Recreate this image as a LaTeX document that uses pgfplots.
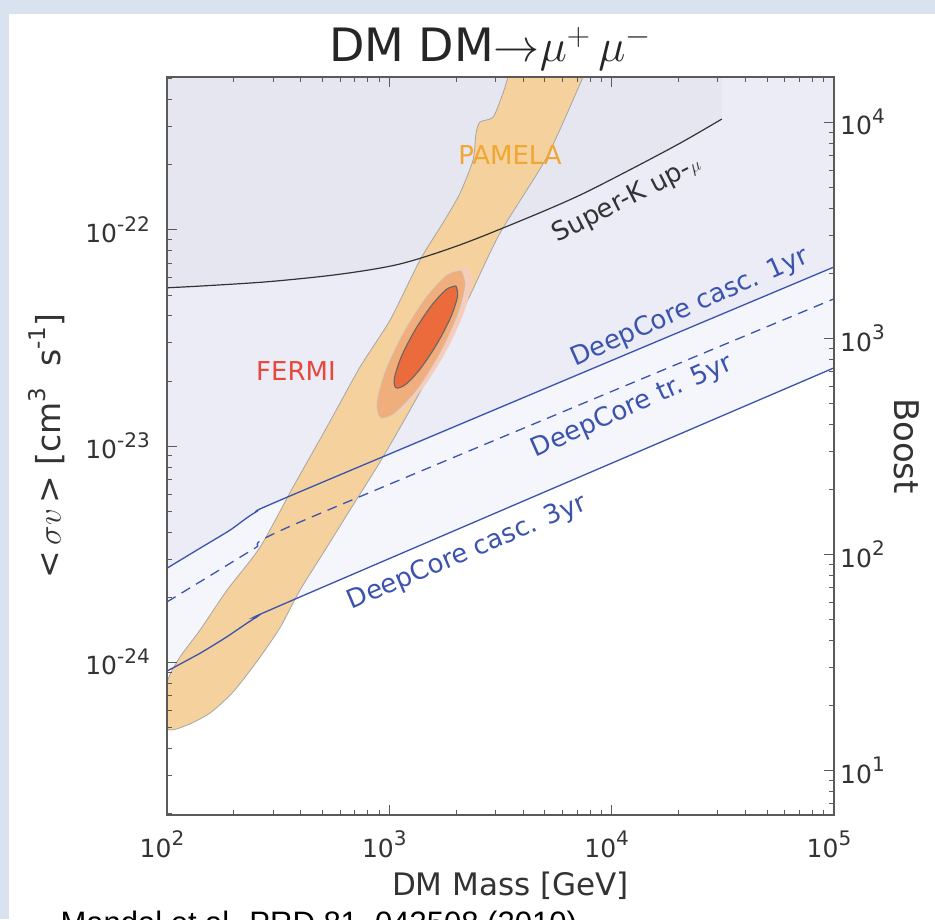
\RequirePackage{fix-cm}
\documentclass[border=0pt]{standalone}
\usepackage{fontspec}
\setmainfont{DejaVu Sans}
\newfontfamily\refont{Liberation Sans}
\usepackage{pgfplots}
\pgfplotsset{compat=1.18}
\definecolor{bgblue}{HTML}{D9E3F0}
\definecolor{regSK}{HTML}{E5E6EF}
\definecolor{regA}{HTML}{EBECF6}
\definecolor{regB}{HTML}{F5F6FB}
\definecolor{pamela}{HTML}{F4D19D}
\definecolor{pamtxt}{HTML}{F2A632}
\definecolor{fermiA}{HTML}{F6CDBD}
\definecolor{fermiB}{HTML}{F0AE7C}
\definecolor{fermiC}{HTML}{EC6B3C}
\definecolor{fermitxt}{HTML}{E8473B}
\definecolor{dcblue}{HTML}{3B53AE}
\definecolor{axgray}{HTML}{5A5A5A}
\newcommand\tsup[1]{\raisebox{0.45em}{\fontsize{20}{20}\selectfont #1}}
\newcommand\lsup[1]{\raisebox{0.45em}{\fontsize{23}{23}\selectfont #1}}
\begin{document}
\begin{tikzpicture}[x=1pt,y=1pt]
\useasboundingbox (0,0) rectangle (935,919);
\fill[bgblue] (0,0) rectangle (935,919);
\fill[white] (9,0) rectangle (935,905);
\node[anchor=base, font=\fontsize{46}{50}\selectfont, text=black!85] at (490,857) {DM DM$\mathord{\to}\mu^{+}\,\mu^{-}$};
\node[anchor=base west, font=\refont\fontsize{31}{34}\selectfont] at (57,-14) {Mandal et al. PRD 81, 043508 (2010)};

\begin{axis}[
 at={(167pt,104pt)}, anchor=south west, scale only axis, width=667pt, height=738pt,
 xmode=log, ymode=log, xmin=100, xmax=100000, ymin=1.96e-25, ymax=5.1e-22,
 axis on top,
 axis line style={axgray, line width=1.6pt},
 tick align=inside, major tick length=10pt, minor tick length=5pt,
 every tick/.style={axgray, line width=0.9pt},
 xtick={100,1000,10000,100000},
 xticklabels={10\tsup{2},10\tsup{3},10\tsup{4},10\tsup{5}},
 minor xtick={200,300,400,500,600,700,800,900,2000,3000,4000,5000,6000,7000,8000,9000,20000,30000,40000,50000,60000,70000,80000,90000},
 ytick={1e-24,1e-23,1e-22},
 yticklabels={10\tsup{-24},10\tsup{-23},10\tsup{-22}},
 minor ytick={2e-25,3e-25,4e-25,5e-25,6e-25,7e-25,8e-25,9e-25,2e-24,3e-24,4e-24,5e-24,6e-24,7e-24,8e-24,9e-24,2e-23,3e-23,4e-23,5e-23,6e-23,7e-23,8e-23,9e-23,2e-22,3e-22,4e-22,5e-22},
 ytick pos=left, xtick pos=both,
 ticklabel style={font=\fontsize{25}{25}\selectfont, text=black!80},
 xticklabel style={anchor=base, yshift=-42pt, xshift=-5pt, inner sep=0pt},
 yticklabel style={anchor=east, inner sep=0pt, xshift=-17pt},
 xlabel={DM Mass [GeV]},
 xlabel style={at={(axis description cs:0.515,0)}, anchor=base, yshift=-80pt, font=\fontsize{31}{31}\selectfont, text=black!80},
 ylabel={{<}\,$\sigma v$\,{>} [cm\lsup{3}\ \ s\lsup{-1}]},
 ylabel style={at={(axis description cs:-0.180,0.5)}, anchor=center, font=\fontsize{33}{33}\selectfont, text=black!80},
]
% shaded exclusion regions
\addplot[fill=regB, draw=none] coordinates {(100,9.09e-25) (141,1.10e-24) (186,1.31e-24) (254,1.62e-24) (369,1.94e-24) (100000,2.30e-23) (100000,5.1e-22) (100,5.1e-22)};
\addplot[fill=regA, draw=none] coordinates {(100,2.72e-24) (141,3.37e-24) (192,4.08e-24) (251,4.95e-24) (100000,6.74e-23) (100000,5.1e-22) (100,5.1e-22)};
\addplot[fill=regSK, draw=none] coordinates {(100,5.40e-23) (146,5.51e-23) (290,5.77e-23) (600,6.24e-23) (1117,6.96e-23) (2080,8.53e-23) (3000,9.9e-23) (4300,1.15e-22) (7210,1.45e-22) (12100,1.90e-22) (20300,2.52e-22) (31300,3.26e-22) (31300,5.1e-22) (100,5.1e-22)};
% PAMELA band
\addplot[fill=pamela, draw=black!35, line width=0.8pt, smooth, tension=0.4] coordinates {
 (7430,5.1e-22) (5120,2.18e-22) (3150,9.7e-23) (2310,5.0e-23) (1690,2.64e-23) (1240,1.47e-23) (908,8.43e-24) (679,5.23e-24) (514,3.30e-24) (396,2.15e-24) (322,1.44e-24) (256,1.02e-24) (198,7.26e-25) (156,5.81e-25) (123,5.11e-25) (100,4.94e-25)
 (100,8.0e-25) (114,1.05e-24) (141,1.41e-24) (186,2.15e-24) (262,3.40e-24) (369,6.46e-24) (525,1.23e-23) (738,2.32e-23) (1008,3.83e-23) (1374,7.26e-23) (1745,1.08e-22) (2080,1.48e-22) (2380,2.11e-22) (2455,2.81e-22) (2560,3.16e-22) (2930,3.33e-22) (3245,4.30e-22) (3420,5.1e-22)};
% FERMI contours
\addplot[fill=fermiA, draw=none, smooth] coordinates {(2257,6.70e-23) (2347,5.72e-23) (2159,4.12e-23) (1797,2.74e-23) (1423,1.87e-23) (1138,1.47e-23) (978,1.39e-23) (941,1.63e-23) (1022,2.27e-23) (1228,3.40e-23) (1550,4.96e-23) (1938,6.37e-23) (2257,6.70e-23)};
\addplot[fill=fermiB, draw=black!20, line width=0.5pt, smooth] coordinates {(2109,6.50e-23) (2193,5.55e-23) (2018,4.00e-23) (1679,2.66e-23) (1330,1.82e-23) (1064,1.43e-23) (914,1.35e-23) (879,1.585e-23) (955,2.20e-23) (1148,3.30e-23) (1449,4.82e-23) (1811,6.18e-23) (2109,6.50e-23)};
\addplot[fill=fermiC, draw=black!60, line width=1.1pt, smooth] coordinates {(1995,5.51e-23) (2028,4.94e-23) (1888,3.94e-23) (1641,2.98e-23) (1384,2.29e-23) (1186,1.93e-23) (1072,1.86e-23) (1054,2.06e-23) (1132,2.59e-23) (1303,3.43e-23) (1545,4.46e-23) (1803,5.30e-23) (1995,5.51e-23)};
% limit curves
\addplot[black!80, line width=1.2pt, smooth] coordinates {(100,5.40e-23) (146,5.51e-23) (290,5.77e-23) (600,6.24e-23) (1117,6.96e-23) (2080,8.53e-23) (4300,1.15e-22) (7210,1.45e-22) (12100,1.90e-22) (20300,2.52e-22) (31300,3.26e-22)};
\addplot[dcblue, line width=1.3pt, smooth, tension=0.4] coordinates {(100,2.72e-24) (141,3.37e-24) (192,4.08e-24) (251,4.95e-24) (400,6.17e-24) (100000,6.74e-23)};
\addplot[dcblue, line width=1.3pt, dash pattern=on 10pt off 7pt, smooth, tension=0.4] coordinates {(100,1.90e-24) (160,2.55e-24) (250,3.38e-24) (400,4.47e-24) (100000,4.80e-23)};
\addplot[dcblue, line width=1.3pt, smooth, tension=0.4] coordinates {(100,9.09e-25) (141,1.10e-24) (186,1.31e-24) (254,1.62e-24) (369,1.94e-24) (100000,2.30e-23)};
% labels
\node[text=pamtxt, font=\fontsize{26}{26}\selectfont] at (axis cs:3490,2.22e-22) {PAMELA};
\node[text=fermitxt, font=\fontsize{26}{26}\selectfont] at (axis cs:380,2.22e-23) {FERMI};
\node[text=black!80, rotate=27, font=\fontsize{26}{26}\selectfont] at (axis cs:11700,1.38e-22) {Super-K up-{\fontsize{18}{18}\selectfont$\mu$}};
\node[text=dcblue, rotate=24, font=\fontsize{26}{26}\selectfont] at (axis cs:22500,4.36e-23) {DeepCore casc. 1yr};
\node[text=dcblue, rotate=24, font=\fontsize{26}{26}\selectfont] at (axis cs:12400,1.52e-23) {DeepCore tr. 5yr};
\node[text=dcblue, rotate=23, font=\fontsize{26}{26}\selectfont] at (axis cs:2240,3.20e-24) {DeepCore casc. 3yr};
\end{axis}

\begin{axis}[
 at={(167pt,104pt)}, anchor=south west, scale only axis, width=667pt, height=738pt,
 xmode=log, xmin=100, xmax=100000, ymode=log, ymin=6.22, ymax=16200,
 hide x axis, axis y line*=right,
 axis line style={axgray, line width=1.6pt},
 tick align=inside, major tick length=10pt, minor tick length=5pt,
 every tick/.style={axgray, line width=0.9pt},
 ytick={10,100,1000,10000},
 yticklabels={10\tsup{1},10\tsup{2},10\tsup{3},10\tsup{4}},
 minor ytick={7,8,9,20,30,40,50,60,70,80,90,200,300,400,500,600,700,800,900,2000,3000,4000,5000,6000,7000,8000,9000},
 ticklabel style={font=\fontsize{25}{25}\selectfont, text=black!80},
 yticklabel style={anchor=west, inner sep=0pt, xshift=6pt},
 ylabel={Boost},
 ylabel style={at={(axis description cs:1.109,0.5)}, anchor=center, rotate=180, font=\fontsize{34}{34}\selectfont, text=black!80},
]
\addplot[draw=none] coordinates {(100,10) (1000,100)};
\end{axis}
\end{tikzpicture}
\end{document}
